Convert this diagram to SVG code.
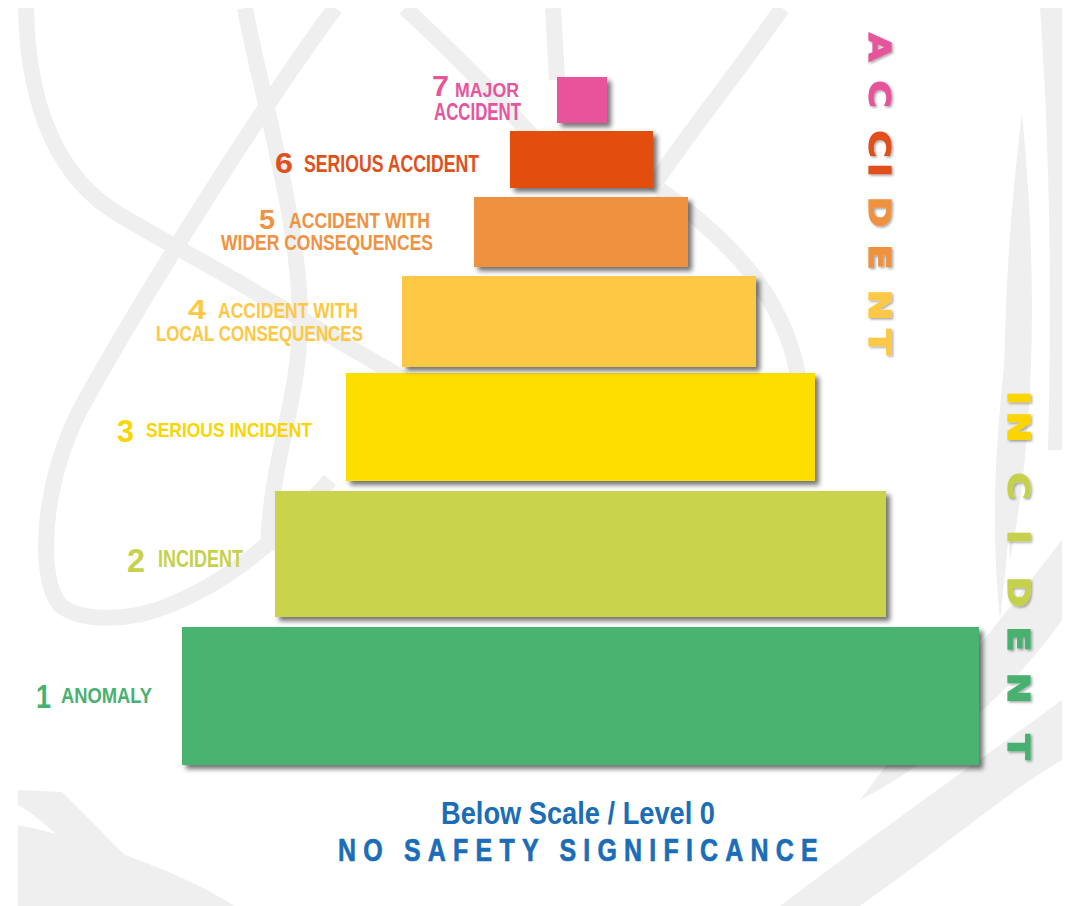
<svg xmlns="http://www.w3.org/2000/svg" width="1066" height="906" viewBox="0 0 1066 906">
  <defs>
    <clipPath id="frame"><rect x="18" y="8" width="1044" height="898"/></clipPath>
    <filter id="sh" x="-10%" y="-10%" width="130%" height="140%">
      <feDropShadow dx="4" dy="4" stdDeviation="2.5" flood-color="#000" flood-opacity="0.55"/>
    </filter>
    <filter id="tsh" x="-20%" y="-20%" width="150%" height="150%">
      <feDropShadow dx="1.5" dy="1.5" stdDeviation="1" flood-color="#000" flood-opacity="0.35"/>
    </filter>
    <style>
      .bg { fill: none; stroke: #efefef; stroke-width: 16; stroke-linecap: butt; }
      .leaf { fill: #efefef; }
      .lbl { font-family: "Liberation Sans", Arial, sans-serif; font-weight: bold; }
      .vert { font-family: "DejaVu Sans", "Liberation Sans", sans-serif; font-weight: bold; font-size: 31px; text-anchor: middle; stroke-width: 1.2; }
      .c7 { fill: #e6559c; } .c6 { fill: #e0501a; } .c5 { fill: #ef9241; }
      .c4 { fill: #fcc845; } .c3 { fill: #fbd500; } .c2 { fill: #c6d14c; } .c1 { fill: #49b170; }
      .vert .c7 { stroke: #e6559c; } .vert .c6 { stroke: #e0501a; } .vert .c5 { stroke: #ef9241; }
      .vert .c4 { stroke: #fcc845; } .vert .c3 { stroke: #fbd500; } .vert .c2 { stroke: #c6d14c; } .vert .c1 { stroke: #49b170; }
      .blue { fill: #1a6db6; }
      .heavy { stroke: #1a6db6; stroke-width: 0.7; }
    </style>
  </defs>
  <rect x="0" y="0" width="1066" height="906" fill="#ffffff"/>
  <g id="background" clip-path="url(#frame)">
    <path class="bg" d="M 335,8 C 260,110 140,300 80,410 C 40,490 38,580 60,605 C 80,622 130,622 170,605 C 220,585 270,550 330,480"/>
    <path class="bg" d="M 26,8 C 28,110 60,180 120,215 C 170,245 205,262 260,295 C 320,330 380,365 440,400"/>
    <path class="bg" d="M 245,8 C 262,100 300,220 300,320 C 300,400 270,460 268,550"/>
    <path class="bg" d="M 405,8 C 450,50 500,100 545,150"/>
    <path class="bg" d="M 553,8 L 557,80"/>
    <path class="bg" d="M 782,8 C 740,70 690,130 650,190"/>
    <path class="bg" d="M 660,190 C 730,240 790,300 800,390"/>
    <path class="leaf" d="M 1040,8 C 1050,150 1052,300 1048,450 L 1062,450 L 1062,8 Z"/>
    <path class="leaf" d="M 1022,113 C 1005,250 998,400 1010,560 C 1032,450 1040,300 1022,113 Z"/>
    <path class="leaf" d="M 1013,300 C 995,420 990,520 1000,620 C 1012,520 1018,420 1013,300 Z"/>
    <path class="leaf" d="M 1062,540 C 1000,620 920,720 860,800 C 940,760 1020,680 1062,620 Z"/>
    <path class="leaf" d="M 1062,700 C 980,760 880,830 780,906 L 860,906 C 940,850 1010,790 1062,760 Z"/>
    <path class="leaf" d="M 18,790 L 62,792 C 120,850 150,880 170,906 L 120,906 C 90,870 60,830 18,805 Z"/>
    <path class="leaf" d="M 18,825 C 100,842 180,872 235,906 L 18,906 Z"/>
  </g>

  <g id="level-1">
    <rect x="182" y="627" width="797" height="138" fill="#4ab370" filter="url(#sh)"/>
    <text class="lbl c1" x="36" y="708" font-size="34" textLength="15" lengthAdjust="spacingAndGlyphs">1</text>
    <text class="lbl c1" x="61" y="703" font-size="22" textLength="91" lengthAdjust="spacingAndGlyphs">ANOMALY</text>
  </g>
  <g id="level-2">
    <rect x="275" y="491" width="611" height="126" fill="#c9d34c" filter="url(#sh)"/>
    <text class="lbl c2" x="127" y="572" font-size="33" textLength="18" lengthAdjust="spacingAndGlyphs">2</text>
    <text class="lbl c2" x="158" y="567" font-size="23" textLength="85" lengthAdjust="spacingAndGlyphs">INCIDENT</text>
  </g>
  <g id="level-3">
    <rect x="346" y="373" width="469" height="108" fill="#fedd00" filter="url(#sh)"/>
    <text class="lbl c3" x="117" y="442" font-size="32" textLength="17" lengthAdjust="spacingAndGlyphs">3</text>
    <text class="lbl c3" x="146" y="437" font-size="21" textLength="166" lengthAdjust="spacingAndGlyphs">SERIOUS INCIDENT</text>
  </g>
  <g id="level-4">
    <rect x="402" y="276" width="354" height="91" fill="#fdc945" filter="url(#sh)"/>
    <text class="lbl c4" x="188" y="319" font-size="27" textLength="18" lengthAdjust="spacingAndGlyphs">4</text>
    <text class="lbl c4" x="218" y="318" font-size="22" textLength="140" lengthAdjust="spacingAndGlyphs">ACCIDENT WITH</text>
    <text class="lbl c4" x="156" y="341" font-size="22" textLength="207" lengthAdjust="spacingAndGlyphs">LOCAL CONSEQUENCES</text>
  </g>
  <g id="level-5">
    <rect x="474" y="197" width="214" height="70" fill="#f0923d" filter="url(#sh)"/>
    <text class="lbl c5" x="259" y="229" font-size="28" textLength="16" lengthAdjust="spacingAndGlyphs">5</text>
    <text class="lbl c5" x="289" y="228" font-size="22" textLength="141" lengthAdjust="spacingAndGlyphs">ACCIDENT WITH</text>
    <text class="lbl c5" x="221" y="250" font-size="22" textLength="212" lengthAdjust="spacingAndGlyphs">WIDER CONSEQUENCES</text>
  </g>
  <g id="level-6">
    <rect x="510" y="131" width="143" height="57" fill="#e34e0f" filter="url(#sh)"/>
    <text class="lbl c6" x="275" y="173" font-size="29" textLength="18" lengthAdjust="spacingAndGlyphs">6</text>
    <text class="lbl c6" x="304" y="172" font-size="23" textLength="175" lengthAdjust="spacingAndGlyphs">SERIOUS ACCIDENT</text>
  </g>
  <g id="level-7">
    <rect x="557" y="77" width="50" height="46" fill="#e8529b" filter="url(#sh)"/>
    <text class="lbl c7" x="432" y="96" font-size="30" textLength="17" lengthAdjust="spacingAndGlyphs">7</text>
    <text class="lbl c7" x="455" y="97" font-size="20" textLength="64" lengthAdjust="spacingAndGlyphs">MAJOR</text>
    <text class="lbl c7" x="434" y="120" font-size="23" textLength="87" lengthAdjust="spacingAndGlyphs">ACCIDENT</text>
  </g>

  <g id="accident-axis" filter="url(#tsh)">
    <text class="vert" transform="translate(869,0) rotate(90) scale(1.2,1)">
      <tspan x="39.2" y="0" class="c7">A</tspan><tspan x="78.3" y="0" class="c7">C</tspan><tspan x="120" y="0" class="c6">C</tspan><tspan x="141.7" y="0" class="c6">I</tspan><tspan x="176.7" y="0" class="c5">D</tspan><tspan x="214.2" y="0" class="c5">E</tspan><tspan x="254.2" y="0" class="c4">N</tspan><tspan x="285" y="0" class="c4">T</tspan>
    </text>
  </g>
  <g id="incident-axis" filter="url(#tsh)">
    <text class="vert" transform="translate(1008,0) rotate(90) scale(1.2,1)">
      <tspan x="331.7" y="0" class="c3">I</tspan><tspan x="355.8" y="0" class="c3">N</tspan><tspan x="405" y="0" class="c2">C</tspan><tspan x="447.5" y="0" class="c2">I</tspan><tspan x="493.3" y="0" class="c2">D</tspan><tspan x="532.5" y="0" class="c1">E</tspan><tspan x="573.3" y="0" class="c1">N</tspan><tspan x="622.5" y="0" class="c1">T</tspan>
    </text>
  </g>

  <g id="below-scale">
    <text class="lbl blue" x="441" y="824" font-size="31" textLength="274" lengthAdjust="spacingAndGlyphs">Below Scale / Level 0</text>
    <text class="lbl blue heavy" transform="translate(338,861) scale(0.78,1)" x="0" y="0" font-size="32" textLength="615" lengthAdjust="spacing">NO SAFETY SIGNIFICANCE</text>
  </g>
</svg>
